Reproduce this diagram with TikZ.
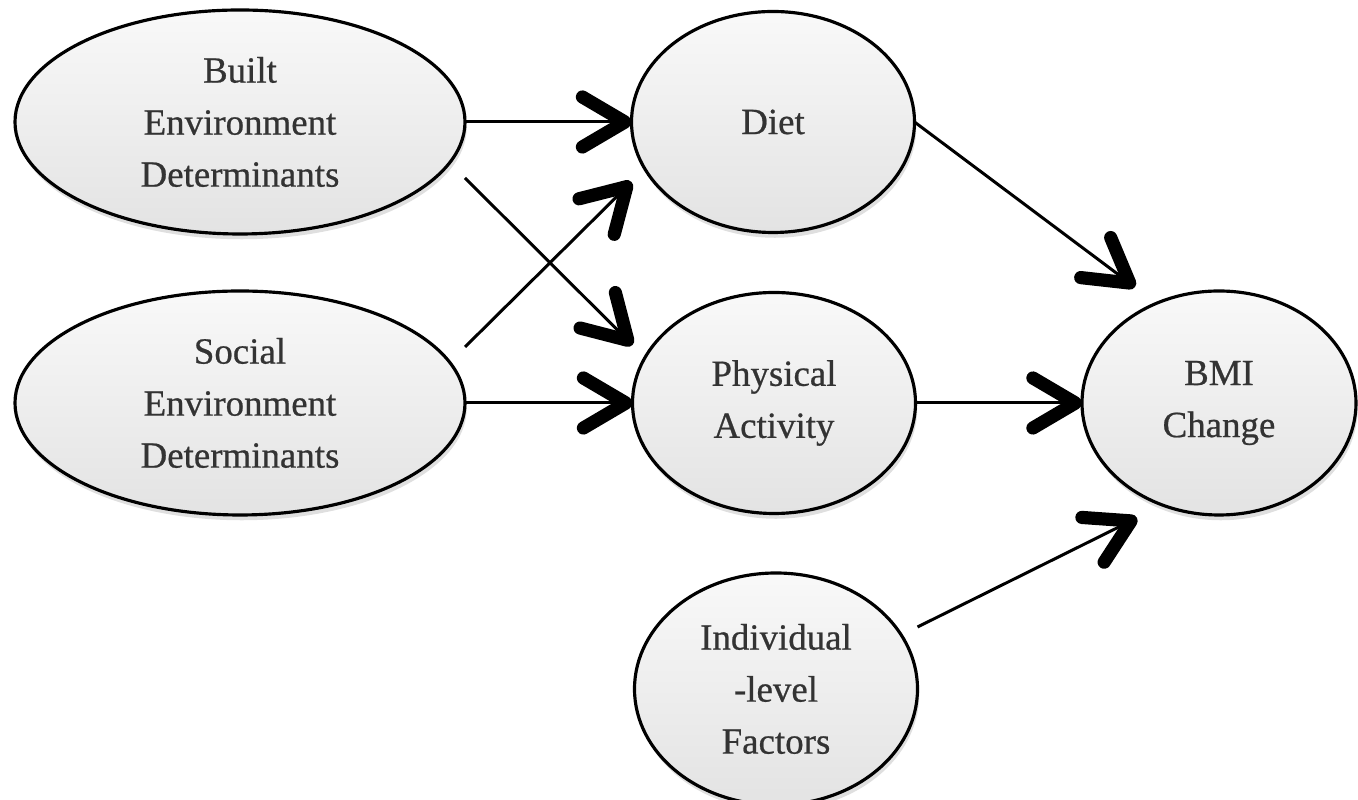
\documentclass[tikz,border=0pt]{standalone}
\usepackage{fontspec}
\setmainfont{Liberation Serif}
\newfontface\ovalfont{Liberation Serif}[FakeBold=0.6]
\usepackage{tikz}
\usetikzlibrary{shapes.geometric,shadows,arrows.meta}

\begin{document}
\begin{tikzpicture}[
    factor/.style={draw, ellipse, line width=1.8pt, inner sep=0pt, outer sep=0pt,
        top color=gray!5, bottom color=gray!22, text=black!80,
        drop shadow={shadow xshift=1pt, shadow yshift=-3pt, opacity=0.25},
        align=center, font=\ovalfont\fontsize{21}{29.6}\selectfont},
    determinant/.style={factor, minimum width=9cm, minimum height=4.48cm},
    behaviour/.style={factor, minimum width=5.66cm, minimum height=4.42cm},
    outcome/.style={factor, minimum width=5.48cm, minimum height=4.48cm},
    link/.style={line width=1.7pt,
        -{Straight Barb[length=0.85cm, width=1cm, line width=7.5pt, round]}}]

    \useasboundingbox (0,0) rectangle (27.16,16);

    % Nodes
    \node[determinant] (Built) at (4.8,13.56) {Built\\Environment\\Determinants};
    \node[determinant] (Social) at (4.8,7.94) {Social\\Environment\\Determinants};
    \node[behaviour] (Diet) at (15.46,13.56) {Diet};
    \node[behaviour] (PA) at (15.48,7.94) {Physical\\Activity};
    \node[outcome] (BMI) at (24.38,7.94) {BMI\\Change};
    \node[behaviour, minimum height=4.64cm] (Indiv) at (15.52,2.22) {Individual\\-level\\Factors};

    % Arcs
    \draw[link] (Built) -- (Diet);
    \draw[link] ([yshift=-1.12cm]Built.east) -- ([yshift=1.16cm]PA.west);
    \draw[link] ([yshift=1.12cm]Social.east) -- ([yshift=-1.2cm]Diet.west);
    \draw[link] (Social) -- (PA);
    \draw[link] (Diet.east) -- ([xshift=1.06cm, yshift=2.32cm]BMI.west);
    \draw[link] (PA) -- (BMI);
    \draw[link] ([yshift=1.24cm]Indiv.east) -- ([xshift=1.1cm, yshift=-2.3cm]BMI.west);
\end{tikzpicture}
\end{document}
